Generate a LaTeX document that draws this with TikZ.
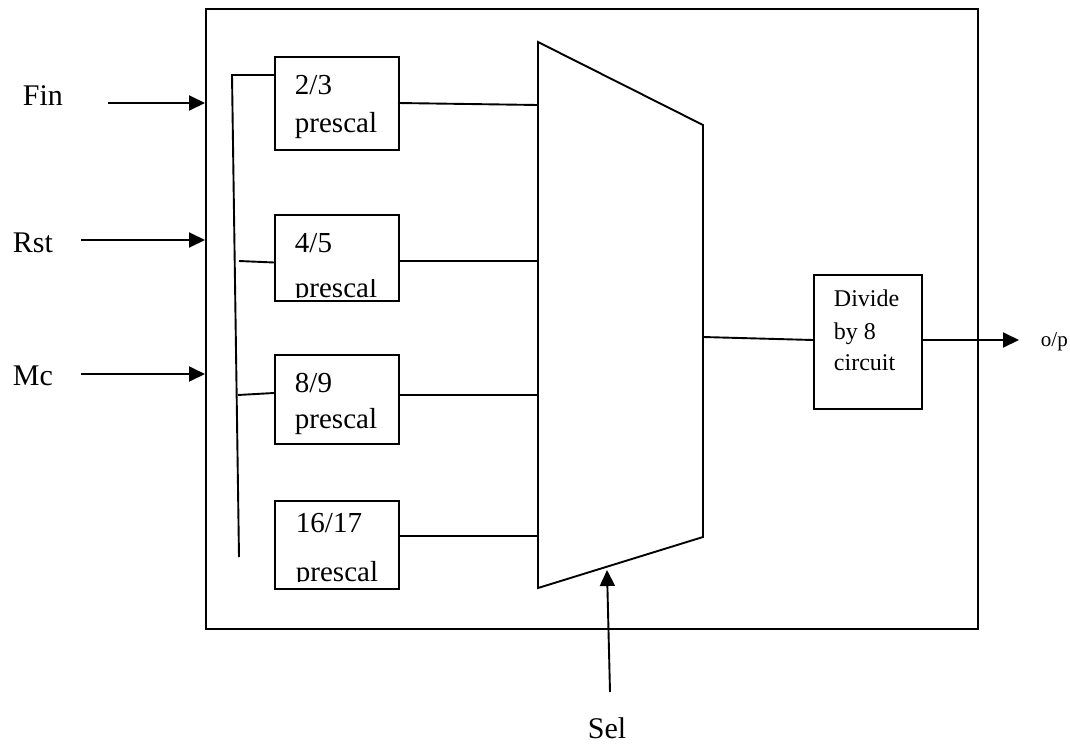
\documentclass[tikz,border=0pt]{standalone}
\usepackage{fontspec}
\setmainfont{Liberation Serif}
\usetikzlibrary{arrows.meta}
\begin{document}
\begin{tikzpicture}[x=1pt,y=-1pt,line width=1.9pt,line join=miter,
  box/.style={draw,line width=1.9pt,inner sep=0pt,anchor=north west},
  lbl/.style={inner sep=0pt,anchor=base west,font=\fontsize{30}{36}\selectfont},
  txt/.style={inner sep=0pt,anchor=base west,font=\fontsize{29}{34}\selectfont},
  dtxt/.style={inner sep=0pt,anchor=base west,font=\fontsize{24}{28}\selectfont},
  otxt/.style={inner sep=0pt,anchor=base west,font=\fontsize{21}{25}\selectfont},
  arr/.style={-{Triangle[length=16pt,width=15pt]}}]
\useasboundingbox (0,0) rectangle (1070,744);
\fill[white] (0,0) rectangle (1070,744);

% outer box
\node[box,minimum width=772pt,minimum height=620pt] (outer) at (205,8) {};

% inputs
\node[lbl] (finl) at (22,105) {Fin};
\node[lbl] (rstl) at (12,252) {Rst};
\node[lbl] (mcl) at (12,385) {Mc};
\coordinate (fin) at (108,103);
\coordinate (rst) at (81,240);
\coordinate (mc) at (81,374);
\draw[arr] (fin) -- (fin -| outer.west);
\draw[arr] (rst) -- (rst -| outer.west);
\draw[arr] (mc) -- (mc -| outer.west);

% prescaler boxes
\node[box,minimum width=124pt,minimum height=93pt] (b1) at (274,56) {};
\node[box,minimum width=124pt,minimum height=86pt] (b2) at (274,214) {};
\node[box,minimum width=124pt,minimum height=89pt] (b3) at (274,354) {};
\node[box,minimum width=124pt,minimum height=88pt] (b4) at (274,500) {};

\node[txt] (t1a) at (294,94) {2/3};
\node[txt] (t1b) at (294,132) {prescal};
\node[txt] (t2a) at (294,252) {4/5};
\begin{scope}
  \clip (274,279) rectangle (398,297.5);
  \node[txt] (t2b) at (294,297) {prescal};
\end{scope}
\node[txt] (t3a) at (294,392) {8/9};
\node[txt] (t3b) at (294,428) {prescal};
\node[txt] (t4a) at (295,532) {16/17};
\begin{scope}
  \clip (274,500) rectangle (398,581.5);
  \node[txt] (t4b) at (295,581) {prescal};
\end{scope}

% bus
\coordinate (bt) at (232,75);
\coordinate (bb) at (239,557);
\draw (b1.west |- bt) -- (bt) -- (bb);
\coordinate (s2) at (239,261);
\coordinate (s3) at (238,395);
\draw (s2) -- (274,262.5);
\draw (s3) -- (274,393);

% mux
\coordinate (m1) at (538,42);
\coordinate (m2) at (703,125);
\coordinate (m3) at (703,537);
\coordinate (m4) at (538,588);
\draw (m1) -- (m2) -- (m3) -- (m4) -- cycle;

\draw (398,103) -- (538,105);
\draw (398,261) -- (538,261);
\draw (398,395) -- (538,395);
\draw (398,536) -- (538,536);

% divider
\node[box,minimum width=108pt,minimum height=134pt] (div) at (813,274) {};
\node[dtxt] (d1) at (833,306) {Divide};
\node[dtxt] (d2) at (833,339) {by 8};
\node[dtxt] (d3) at (833,370) {circuit};
\coordinate (mo) at (703,337);
\draw (mo) -- (div.west |- 0,340);
\coordinate (op) at (1019,340);
\draw[arr] (div.east |- op) -- (op);
\node[otxt] (opl) at (1040,346) {o/p};

% select
\coordinate (sel) at (610,692);
\coordinate (selt) at (607,570);
\draw[arr] (sel) -- (selt);
\node[lbl] (sell) at (587,738) {Sel};
\end{tikzpicture}
\end{document}
